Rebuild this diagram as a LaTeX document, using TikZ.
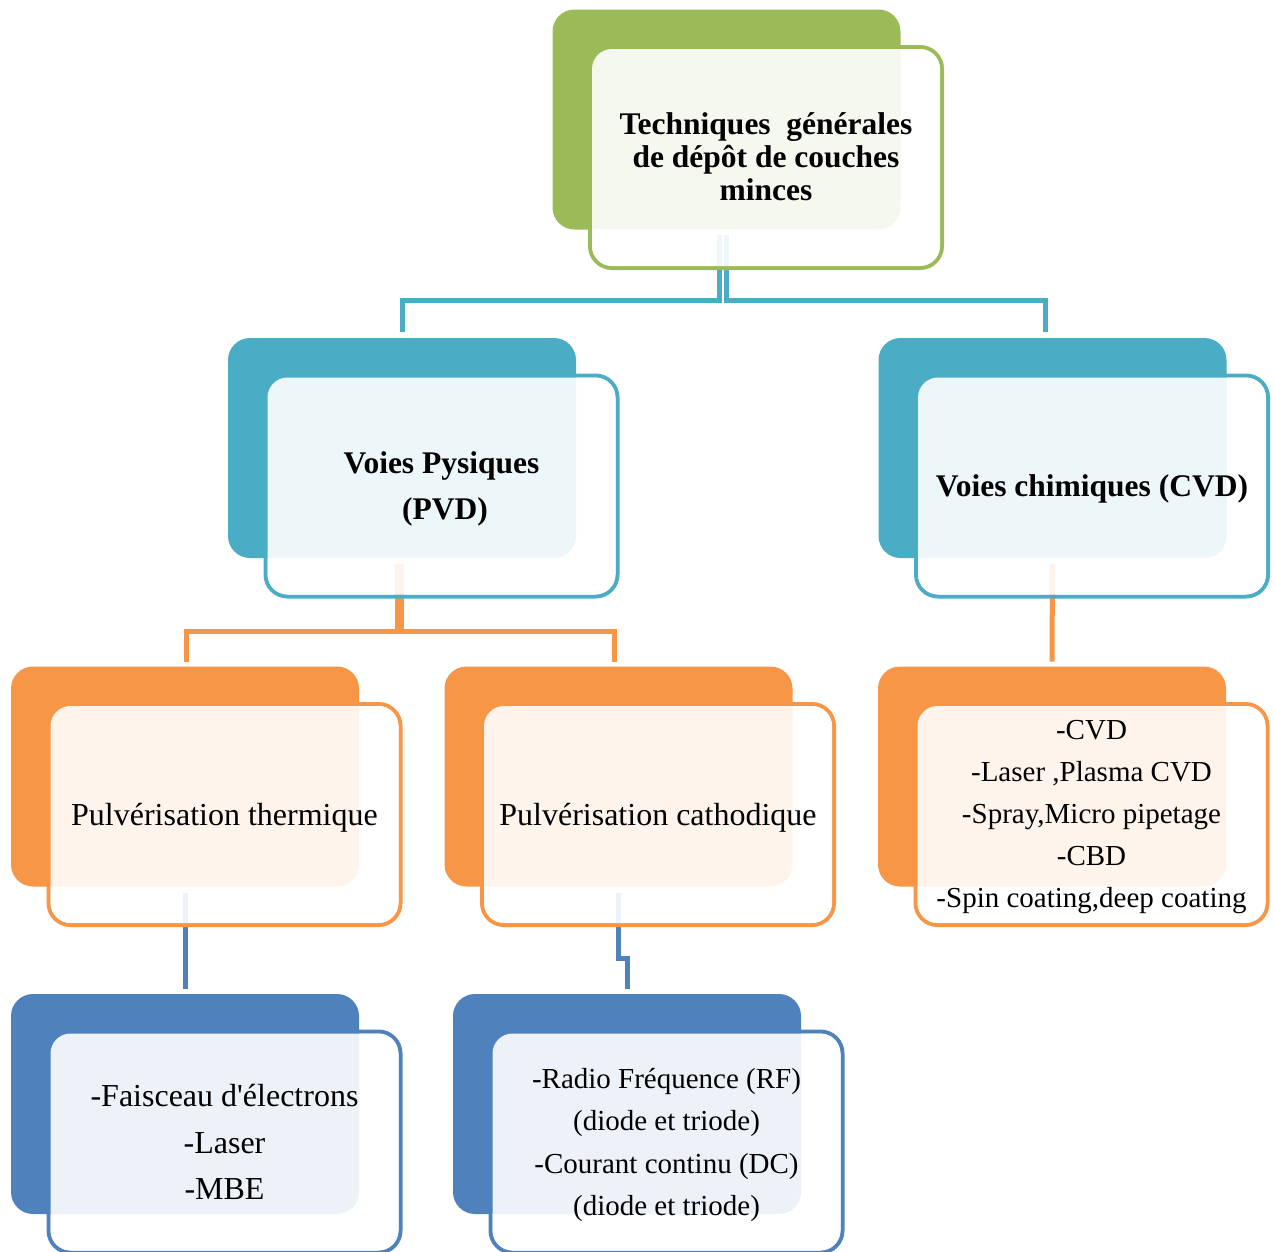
\documentclass[tikz,border=0pt]{standalone}
\usepackage{fontspec}
\setmainfont{Liberation Serif}
\usetikzlibrary{backgrounds}

\definecolor{leafgreen}{HTML}{9BBB59}
\definecolor{tealblue}{HTML}{4BACC6}
\definecolor{deeporange}{HTML}{F79646}
\definecolor{steelblue}{HTML}{4F81BD}

\begin{document}
\begin{tikzpicture}[x=1pt,y=-1pt,
    frontbox/.style={draw=#1,line width=4pt,rounded corners=22pt,minimum width=352pt,minimum height=221pt,inner sep=0pt,outer sep=0pt},
    backbox/.style={fill=#1,rounded corners=22pt,minimum width=348pt,minimum height=220pt,inner sep=0pt,outer sep=0pt},
    washbox/.style={fill=white,fill opacity=.9,rounded corners=20pt,minimum width=348pt,minimum height=217pt,inner sep=0pt},
    boxtext/.style={align=center,inner sep=0pt},
    link/.style={draw=#1,line width=5pt}]
    \useasboundingbox (0,0) rectangle (1274,1251);
    \clip (0,0) rectangle (1274,1251);

    % level 0
    \node[frontbox=leafgreen] (topF) at (766,157.5) {};
    \node[backbox=leafgreen] (topB) at ([xshift=-39.5pt,yshift=38pt]topF.center) {};
    \node[washbox] (topW) at (topF.center) {};
    \node[boxtext,font=\bfseries\fontsize{31.5}{33}\selectfont] (topT) at ([yshift=1pt]topF.center) {Techniques\ \ générales\\de dépôt de couches\\minces};

    % level 1
    \node[frontbox=tealblue] (pvdF) at (441.5,486) {};
    \node[backbox=tealblue] (pvdB) at ([xshift=-39.5pt,yshift=38pt]pvdF.center) {};
    \node[washbox] (pvdW) at (pvdF.center) {};
    \node[boxtext,font=\bfseries\fontsize{31.5}{46}\selectfont] (pvdT) at ([yshift=-3pt]pvdF.center) {Voies Pysiques\\\hspace*{7pt}(PVD)};

    \node[frontbox=tealblue] (cvdF) at (1092,486) {};
    \node[backbox=tealblue] (cvdB) at ([xshift=-39.5pt,yshift=38pt]cvdF.center) {};
    \node[washbox] (cvdW) at (cvdF.center) {};
    \node[boxtext,font=\bfseries\fontsize{31.5}{46}\selectfont] (cvdT) at ([yshift=-3pt]cvdF.center) {Voies chimiques (CVD)};

    % level 2
    \node[frontbox=deeporange] (thermF) at (224.5,814.5) {};
    \node[backbox=deeporange] (thermB) at ([xshift=-39.5pt,yshift=38pt]thermF.center) {};
    \node[washbox] (thermW) at (thermF.center) {};
    \node[boxtext,font=\fontsize{32}{46}\selectfont] (thermT) at ([yshift=-3pt]thermF.center) {Pulvérisation thermique};

    \node[frontbox=deeporange] (cathF) at (658,814.5) {};
    \node[backbox=deeporange] (cathB) at ([xshift=-39.5pt,yshift=38pt]cathF.center) {};
    \node[washbox] (cathW) at (cathF.center) {};
    \node[boxtext,font=\fontsize{32}{46}\selectfont] (cathT) at ([yshift=-3pt]cathF.center) {Pulvérisation cathodique};

    \node[frontbox=deeporange] (listF) at (1091.5,814.5) {};
    \node[backbox=deeporange] (listB) at ([xshift=-39.5pt,yshift=38pt]listF.center) {};
    \node[washbox] (listW) at (listF.center) {};
    \node[boxtext,font=\fontsize{29}{42.2}\selectfont] (listT) at ([yshift=-2.5pt]listF.center) {-CVD\\-Laser ,Plasma CVD\\-Spray,Micro pipetage\\-CBD\\-Spin coating,deep coating};

    % level 3
    \node[frontbox=steelblue] (faisF) at (224.5,1142) {};
    \node[backbox=steelblue] (faisB) at ([xshift=-39.5pt,yshift=38pt]faisF.center) {};
    \node[washbox] (faisW) at (faisF.center) {};
    \node[boxtext,font=\fontsize{32}{46.5}\selectfont] (faisT) at (faisF.center) {-Faisceau d\textquotesingle électrons\\-Laser\\-MBE};

    \node[frontbox=steelblue] (rfF) at (666.5,1142) {};
    \node[backbox=steelblue] (rfB) at ([xshift=-39.5pt,yshift=38pt]rfF.center) {};
    \node[washbox] (rfW) at (rfF.center) {};
    \node[boxtext,font=\fontsize{29}{42.3}\selectfont] (rfT) at ([yshift=-3pt]rfF.center) {-Radio Fréquence (RF)\\(diode et triode)\\-Courant continu (DC)\\(diode et triode)};

    % connectors
    \begin{scope}[on background layer]
        \draw[link=tealblue] ([xshift=-7pt,yshift=-5pt]topB.south) -- ++(0,66) -| ([yshift=6pt]pvdB.north);
        \draw[link=tealblue] ([xshift=-0.5pt,yshift=-5pt]topB.south) -- ++(0,66) -| ([xshift=-7pt,yshift=6pt]cvdB.north);
        \draw[link=deeporange] ([xshift=-4.5pt,yshift=-6pt]pvdB.south) -- ++(0,67) -| ([xshift=1pt,yshift=5pt]thermB.north);
        \draw[link=deeporange] ([xshift=-0.5pt,yshift=-6pt]pvdB.south) -- ++(0,67) -| ([xshift=-4.5pt,yshift=5pt]cathB.north);
        \draw[link=deeporange] ([yshift=-6pt]cvdB.south) -- ([yshift=5pt]listB.north);
        \draw[link=steelblue] ([yshift=-6pt]thermB.south) -- ([yshift=5pt]faisB.north);
        \draw[link=steelblue] ([yshift=-6pt]cathB.south) -- ++(0,66) -| ([yshift=5pt]rfB.north);
    \end{scope}
\end{tikzpicture}
\end{document}
